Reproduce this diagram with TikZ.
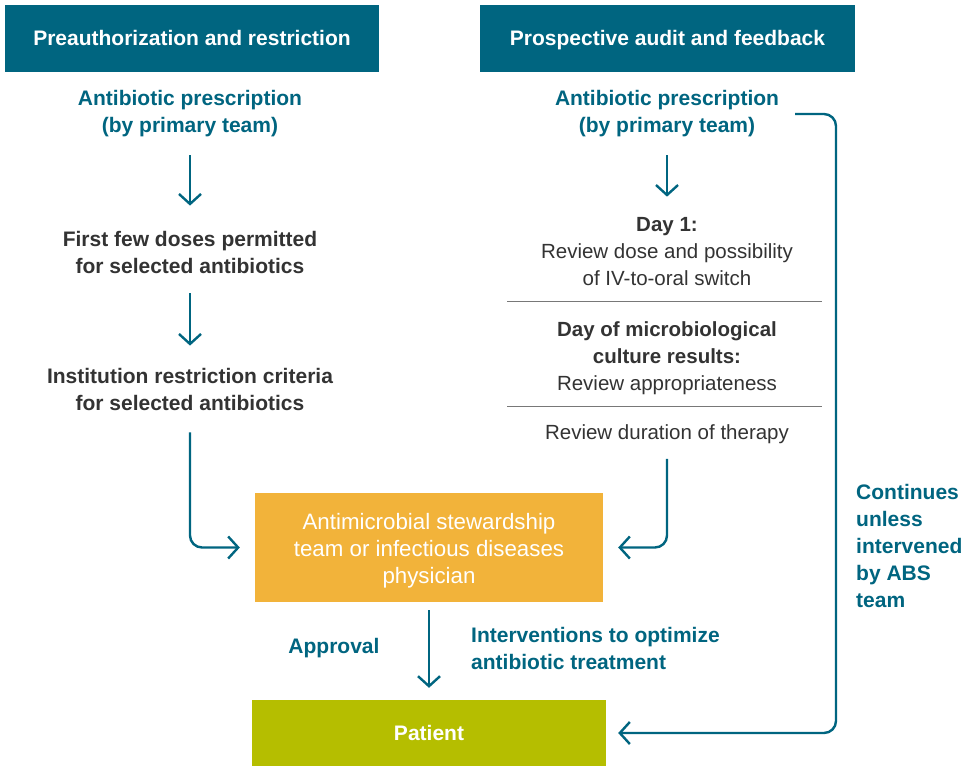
\documentclass[tikz,border=0pt]{standalone}
\usepackage{fontspec}
\setmainfont{Liberation Sans}
\usetikzlibrary{arrows.meta}
\definecolor{absteal}{RGB}{0,101,128}
\definecolor{absorange}{RGB}{242,179,58}
\definecolor{absolive}{RGB}{181,190,0}
\definecolor{darktext}{RGB}{51,51,51}
\definecolor{rulegray}{RGB}{120,120,120}

\begin{document}
\begin{tikzpicture}[x=1pt,y=-1pt,
  every node/.style={inner sep=0pt,align=center,text=darktext,
    font=\fontsize{20.5}{27}\selectfont},
  header/.style={fill=absteal,text=white,minimum height=67pt,
    text height=17pt,text depth=2.5pt,
    font=\fontsize{21}{27}\selectfont\bfseries},
  tealtext/.style={text=absteal,font=\fontsize{21}{27}\selectfont\bfseries},
  darkbold/.style={text=darktext,font=\fontsize{21}{27}\selectfont\bfseries},
  flow/.style={-{Straight Barb[length=10pt,width=22pt]},line width=2.4pt,
    color=absteal,rounded corners=12pt},
  sep/.style={color=rulegray,line width=1pt}]
\useasboundingbox[fill=white](0,0)rectangle(973,766);
% column headers
\node[header,minimum width=374pt](hdpre)at(192,38.5){Preauthorization and restriction};
\node[header,minimum width=375pt](hdpro)at(667.5,38.5){Prospective audit and feedback};
% left column: preauthorization
\node[tealtext](preL)at(190,114){Antibiotic prescription\\(by primary team)};
\node[darkbold](dosesL)at(190,252){First few doses permitted\\for selected antibiotics};
\node[darkbold](critL)at(190,389){Institution restriction criteria\\for selected antibiotics};
% right column: audit steps
\node[tealtext](preR)at(667,114){Antibiotic prescription\\(by primary team)};
\node(dayone)at(667,252){{\bfseries Day 1:}\\Review dose and possibility\\of IV-to-oral switch};
\node(culture)at(667,358){{\bfseries Day of microbiological}\\{\bfseries culture results:}\\Review appropriateness};
\node(duration)at(667,434){Review duration of therapy};
\draw[sep](507,301)--(822,301);
\draw[sep](507,406)--(822,406);
% stewardship team and patient
\node[fill=absorange,text=white,minimum width=348pt,minimum height=109pt,
  font=\fontsize{22.3}{27}\selectfont](ams)
  at(429,547.5){\rule{0pt}{22pt}Antimicrobial stewardship\\team or infectious diseases\\physician};
\node[fill=absolive,text=white,minimum width=354pt,minimum height=66pt,
  font=\fontsize{21}{27}\selectfont\bfseries](patient)at(429,733){Patient};
\node[tealtext](approval)at(334,648){Approval};
\node[tealtext,align=left,anchor=west](interv)at(471,648)
  {Interventions to optimize\\antibiotic treatment};
\node[tealtext,align=left,anchor=north west](cont)at(856,484)
  {Continues\\unless\\intervened\\by ABS\\team};
\coordinate(loopturn)at(836,733);
% connectors
\draw[flow]([yshift=-18pt]preL.south)--([yshift=25pt]dosesL.north);
\draw[flow]([yshift=-20pt]dosesL.south)--([yshift=22pt]critL.north);
\draw[flow]([yshift=-22pt]critL.south)|-([xshift=-15pt]ams.west);
\draw[flow]([yshift=-18pt]preR.south)--([yshift=21pt]dayone.north);
\draw[flow]([yshift=-15pt]duration.south)|-([xshift=15pt]ams.east);
\draw[flow]([yshift=-8pt]ams.south)--([yshift=12pt]patient.north);
\draw[flow]([xshift=16pt]preR.east)-|(loopturn)--([xshift=12pt]patient.east);
\end{tikzpicture}
\end{document}
